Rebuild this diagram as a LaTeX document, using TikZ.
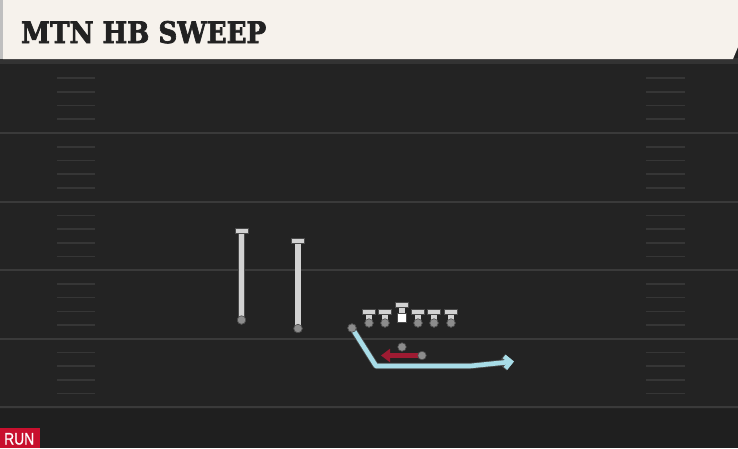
\documentclass[tikz,border=0pt]{standalone}
\usepackage{fontspec}
\usepackage{graphicx}
\usetikzlibrary{arrows.meta}
\newfontfamily\titlefont[BoldFeatures={FakeBold=2.5}]{DejaVu Serif}
\newfontfamily\runfont[FakeBold=1]{Liberation Sans}
\definecolor{fieldbg}{HTML}{232323}
\definecolor{fieldlow}{HTML}{1F1F1F}
\definecolor{yardline}{HTML}{3A3A3A}
\definecolor{hashc}{HTML}{363636}
\definecolor{headerbg}{HTML}{F6F2EC}
\definecolor{titlec}{HTML}{222222}
\definecolor{plight}{HTML}{D2D2D2}
\definecolor{poutl}{HTML}{4A4A4A}
\definecolor{dotc}{HTML}{8C8C8C}
\definecolor{runred}{HTML}{9E1B32}
\definecolor{routeblue}{HTML}{A8DDE8}
\definecolor{tagred}{HTML}{C8102E}
\tikzset{
  yardl/.style={draw=yardline, line width=2pt},
  hashl/.style={draw=hashc, line width=1.6pt},
  tbar/.style={draw=poutl, fill=plight, line width=0.6pt, minimum width=13pt, minimum height=5pt, inner sep=0pt, rectangle},
  pdot/.style={circle, draw=poutl, fill=dotc, line width=0.6pt, minimum size=8.5pt, inner sep=0pt},
  csq/.style={rectangle, draw=poutl, fill=white, line width=0.6pt, minimum size=9pt, inner sep=0pt},
  stemo/.style={draw=poutl, line width=6.8pt},
  stemi/.style={draw=plight, line width=5.2pt},
  runarrow/.style={draw=runred, line width=5pt, -{Triangle[length=9pt,width=13pt]}},
  routeo/.style={draw=black!70, line width=6.2pt, line join=round},
  routei/.style={draw=routeblue, line width=4.6pt, line join=round},
}
\begin{document}
\begin{tikzpicture}[x=1pt,y=-1pt]
\useasboundingbox (0,0) rectangle (738,448);
% field
\fill[fieldbg] (0,0) rectangle (738,448);
\fill[fieldlow] (0,409) rectangle (738,448);
\fill[black!80] (0,58) rectangle (738,64);
% yard lines
\foreach \y in {133,201.6,270.2,338.8,407.4}{
  \draw[yardl] (0,\y) -- (738,\y);
}
% hash marks
\foreach \k in {1,2,3,4,6,7,8,9,11,12,13,14,16,17,18,19,21,22,23,24}{
  \pgfmathsetmacro\yy{64.4+13.72*\k}
  \draw[hashl] (57,\yy) -- (95,\yy);
  \draw[hashl] (646,\yy) -- (685,\yy);
}
% header
\fill[headerbg] (3,0) -- (738,0) -- (738,47) -- (733,59) -- (3,59) -- cycle;
\fill[black!25] (0,0) rectangle (3,59);
\node[anchor=base west, inner sep=0pt, text=titlec] (title) at (21,43)
  {\resizebox{245pt}{22pt}{\titlefont\bfseries MTN HB SWEEP}};
% RUN tag
\node[fill=tagred, anchor=south west, minimum width=40pt, minimum height=20pt, inner sep=0pt] (runtag) at (0,448) {};
\node[anchor=base west, inner sep=0pt, text=white] (runtext) at (4,444.5)
  {\resizebox{30pt}{11.5pt}{\runfont RUN}};
% receivers
\coordinate (wra) at (241.5,233);
\node[pdot] (wradot) at (241.5,320) {};
\coordinate (wrb) at (298,242.5);
\node[pdot] (wrbdot) at (298,328.5) {};
\draw[stemo] (wra) -- (wradot.center);
\draw[stemi] (wra) -- (wradot.center);
\draw[stemo] (wrb) -- (wrbdot.center);
\draw[stemi] (wrb) -- (wrbdot.center);
\node[pdot] at (wradot) {};
\node[pdot] at (wrbdot) {};
\node[tbar] (wrabar) at (241.5,231) {};
\node[tbar] (wrbbar) at (298,240.5) {};
% line
\foreach \n/\x in {lt/369,lg/385,rg/418,rt/434,te/451}{
  \coordinate (\n top) at (\x,312);
  \node[pdot] (\n dot) at (\x,323) {};
  \draw[stemo] (\n top) -- (\n dot.center);
  \draw[stemi] (\n top) -- (\n dot.center);
  \node[pdot] at (\n dot) {};
  \node[tbar] (\n bar) at (\x,312) {};
}
\coordinate (ctop) at (402,305);
\node[csq] (csq) at (402,318) {};
\draw[stemo] (ctop) -- (csq.north);
\draw[stemi] (ctop) -- (csq.north);
\node[csq] at (csq) {};
\node[tbar] (cbar) at (402,305) {};
% QB and RB
\node[pdot] (qb) at (402,347) {};
\coordinate (rbend) at (381,355.5);
\draw[runarrow] (422,355.5) -- (rbend);
\node[pdot] (rb) at (422,355.5) {};
% blue route
\node[pdot] (sb) at (352,328) {};
\coordinate (r1) at (376,366);
\coordinate (r2) at (470,366);
\coordinate (r3) at (514,361.5);
\draw[routeo, -{Straight Barb[length=6pt,width=12pt,line width=6.2pt]}] (sb.center) -- (r1) -- (r2) -- (r3);
\draw[routei, -{Straight Barb[length=6pt,width=12pt,line width=4.6pt]}] (sb.center) -- (r1) -- (r2) -- (r3);
\node[pdot] at (sb) {};
\end{tikzpicture}
\end{document}
